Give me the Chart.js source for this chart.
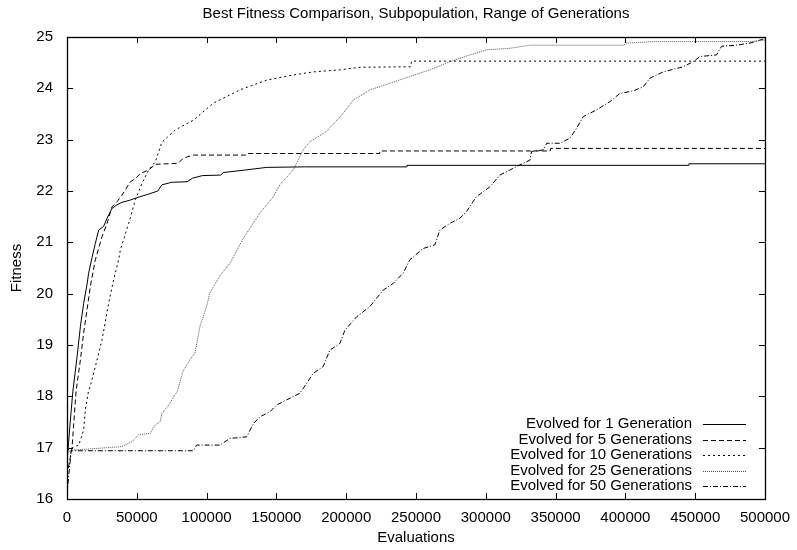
<!DOCTYPE html>
<html>
<head>
<meta charset="utf-8">
<script src="https://cdn.jsdelivr.net/npm/chart.js@4/dist/chart.umd.min.js"></script>
<style>
  html, body { margin: 0; padding: 0; background: #fff; }
  canvas { display: block; }
</style>
</head>
<body>
<canvas id="chart" width="797" height="550"></canvas>
<script>
/* gnuplot-looking fitness comparison, drawn with Chart.js */
const TITLE = 'Best Fitness Comparison, Subpopulation, Range of Generations';
const X_TICKS = [0, 50000, 100000, 150000, 200000, 250000, 300000, 350000, 400000, 450000, 500000];
const Y_TICKS = [16, 17, 18, 19, 20, 21, 22, 23, 24, 25];
const LABELS = [
  'Evolved for 1 Generation',
  'Evolved for 5 Generations',
  'Evolved for 10 Generations',
  'Evolved for 25 Generations',
  'Evolved for 50 Generations',
];

// [evaluations, fitness] pairs
const gen1 = [[0,16.7],[2000,17.4],[4200,18.1],[7200,18.77],[9600,19.36],[11900,19.81],[14300,20.17],[15500,20.4],
  [17900,20.7],[20300,20.98],[22700,21.24],[26200,21.31],[28700,21.47],[32200,21.66],[35800,21.73],[39400,21.78],
  [45000,21.82],[50100,21.87],[58500,21.94],[65000,22.0],[68000,22.12],[75000,22.17],[86000,22.18],[90000,22.25],
  [97000,22.3],[110000,22.31],[112000,22.36],[128000,22.41],[143000,22.46],[170000,22.47],[243000,22.47],
  [243500,22.5],[445000,22.5],[445500,22.53],[500000,22.53]];
const gen5 = [[0,16.45],[3600,17.0],[6500,18.1],[9600,18.71],[11900,19.23],[14300,19.68],[16700,20.14],[20300,20.66],
  [25100,21.11],[28700,21.37],[32200,21.69],[35800,21.79],[39400,21.92],[45400,22.18],[48900,22.24],[52500,22.34],
  [58500,22.41],[63300,22.52],[79700,22.54],[83300,22.64],[90500,22.7],[128000,22.7],[128700,22.73],[224000,22.73],
  [224200,22.78],[346000,22.78],[346500,22.83],[500000,22.83]];
const gen10 = [[0,16.95],[4000,17.0],[8400,17.05],[11900,17.34],[13100,17.73],[15500,18.12],[16700,18.2],
  [20300,18.58],[25100,19.1],[29800,19.81],[33400,20.27],[37000,20.66],[38200,20.85],[44200,21.37],[49000,21.83],
  [53700,22.15],[58500,22.41],[63300,22.57],[68000,22.95],[72000,23.05],[77600,23.19],[90500,23.38],[104800,23.71],
  [123900,23.97],[143000,24.16],[162000,24.26],[176400,24.32],[195500,24.36],[209900,24.41],[246000,24.42],
  [246900,24.53],[500000,24.53]];
const gen25 = [[0,16.9],[3000,16.95],[39400,17.02],[46600,17.12],[51300,17.25],[59700,17.28],[62100,17.41],
  [66800,17.51],[68000,17.67],[72800,17.83],[79000,18.1],[83300,18.5],[88000,18.71],[91600,18.84],[95200,19.36],
  [100000,19.75],[102300,20.01],[109500,20.35],[116700,20.59],[126300,21.08],[138200,21.57],[147800,21.89],
  [152500,22.12],[162000,22.41],[169200,22.8],[174000,22.96],[185900,23.16],[197800,23.51],[205000,23.77],
  [217000,23.97],[231300,24.1],[245600,24.23],[259900,24.36],[274300,24.52],[288600,24.65],[300500,24.75],
  [317300,24.78],[331600,24.84],[398500,24.84],[400900,24.88],[420000,24.91],[490000,24.91],[500000,24.94]];
const gen50 = [[0,16.1],[3000,16.94],[90500,16.94],[92900,17.05],[109600,17.05],[116700,17.18],[128700,17.21],
  [133500,17.47],[138200,17.6],[145400,17.7],[150100,17.83],[157300,17.93],[166800,18.06],[171600,18.25],
  [176400,18.45],[183500,18.58],[188300,18.9],[195500,19.03],[199100,19.29],[207500,19.55],[217000,19.75],
  [226500,20.07],[233700,20.2],[240800,20.4],[245600,20.66],[255100,20.88],[263500,20.95],[267100,21.24],
  [274300,21.37],[281400,21.47],[286200,21.6],[293300,21.89],[302900,22.08],[310000,22.31],[317300,22.41],
  [324400,22.51],[331600,22.6],[332800,22.77],[341200,22.8],[343600,22.93],[353100,22.93],[360300,23.03],
  [365000,23.22],[369800,23.45],[379300,23.58],[388900,23.74],[396000,23.9],[405600,23.95],[412800,24.03],
  [417600,24.2],[427100,24.32],[441400,24.42],[448600,24.52],[453400,24.62],[465300,24.65],[468900,24.82],
  [479600,24.84],[489200,24.88],[500000,24.97]];

const FONT = "'Liberation Sans', Arial, Helvetica, sans-serif";
const FS = 15;
const STYLES = [
  { color: '#000', dash: [] },
  { color: '#000', dash: [5, 3] },
  { color: '#000', dash: [2, 3] },
  { color: '#555', dash: [1, 1] },
  { color: '#000', dash: [5, 2, 1, 2] },
];

const toXY = (pairs) => pairs.map(([x, y]) => ({ x, y }));
const datasets = [gen1, gen5, gen10, gen25, gen50].map((d, i) => ({
  label: LABELS[i],
  data: toXY(d),
  borderColor: STYLES[i].color,
  borderDash: STYLES[i].dash,
  borderWidth: 1,
  pointRadius: 0,
  tension: 0,
  fill: false,
}));

// title centred over the plot area (gnuplot does that, Chart.js centres on the canvas)
const plotTitle = {
  id: 'plotTitle',
  afterDraw(chart) {
    const { ctx, chartArea: a } = chart;
    ctx.save();
    ctx.font = FS + 'px ' + FONT;
    ctx.fillStyle = '#000';
    ctx.textAlign = 'center';
    ctx.textBaseline = 'middle';
    ctx.fillText(TITLE, (a.left + a.right) / 2, 14);
    ctx.restore();
  },
};

// inward ticks on all four sides plus the frame, like gnuplot's mirrored tics
const frame = {
  id: 'frame',
  afterDatasetsDraw(chart) {
    const { ctx, chartArea: a, scales: { x, y } } = chart;
    ctx.save();
    ctx.strokeStyle = '#000';
    ctx.lineWidth = 1;
    ctx.beginPath();
    X_TICKS.forEach((v) => {
      const px = Math.round(x.getPixelForValue(v)) + 0.5;
      ctx.moveTo(px, a.bottom); ctx.lineTo(px, a.bottom - 6);
      ctx.moveTo(px, a.top); ctx.lineTo(px, a.top + 6);
    });
    Y_TICKS.forEach((v) => {
      const py = Math.round(y.getPixelForValue(v)) + 0.5;
      ctx.moveTo(a.left, py); ctx.lineTo(a.left + 6, py);
      ctx.moveTo(a.right, py); ctx.lineTo(a.right - 6, py);
    });
    ctx.stroke();
    ctx.lineWidth = 1.3;
    ctx.strokeRect(Math.round(a.left) + 0.5, Math.round(a.top) + 0.5,
      Math.round(a.right - a.left), Math.round(a.bottom - a.top));
    ctx.restore();
  },
};

// gnuplot style key: right-aligned text with a line sample, bottom right inside the plot
const key = {
  id: 'key',
  afterDatasetsDraw(chart) {
    const { ctx, chartArea: a } = chart;
    const n = chart.data.datasets.length;
    ctx.save();
    ctx.font = FS + 'px ' + FONT;
    ctx.textAlign = 'right';
    ctx.textBaseline = 'middle';
    ctx.fillStyle = '#000';
    chart.data.datasets.forEach((ds, i) => {
      const yy = a.bottom - 13 - (n - 1 - i) * 15.5;
      ctx.fillText(ds.label, a.right - 73, yy);
      ctx.strokeStyle = ds.borderColor;
      ctx.lineWidth = 1;
      ctx.setLineDash(ds.borderDash);
      ctx.beginPath();
      ctx.moveTo(a.right - 62, Math.round(yy) + 0.5);
      ctx.lineTo(a.right - 19, Math.round(yy) + 0.5);
      ctx.stroke();
      ctx.setLineDash([]);
    });
    ctx.restore();
  },
};

new Chart(document.getElementById('chart'), {
  type: 'line',
  data: { datasets },
  plugins: [plotTitle, frame, key],
  options: {
    responsive: false,
    animation: false,
    layout: { padding: { left: 0, right: 32, top: 37, bottom: 0 } },
    plugins: {
      legend: { display: false },
      tooltip: { enabled: false },
      title: { display: false },
    },
    scales: {
      x: {
        type: 'linear',
        min: 0,
        max: 500000,
        afterFit: (s) => { s.height = 51; s.paddingLeft = 0; s.paddingRight = 0; },
        afterBuildTicks: (s) => { s.ticks = X_TICKS.map((v) => ({ value: v })); },
        grid: { display: false, drawTicks: false },
        border: { display: false },
        ticks: { color: '#000', padding: 10, maxRotation: 0, autoSkip: false,
          font: { family: FONT, size: FS }, callback: (v) => String(v) },
        title: { display: true, text: 'Evaluations', color: '#000',
          font: { family: FONT, size: FS }, padding: { top: 3, bottom: 3 } },
      },
      y: {
        type: 'linear',
        min: 16,
        max: 25,
        afterFit: (s) => { s.width = 67; s.paddingTop = 0; s.paddingBottom = 0; },
        afterBuildTicks: (s) => { s.ticks = Y_TICKS.map((v) => ({ value: v })); },
        grid: { display: false, drawTicks: false },
        border: { display: false },
        ticks: { color: '#000', padding: 14, autoSkip: false,
          font: { family: FONT, size: FS }, callback: (v) => String(v) },
        title: { display: true, text: 'Fitness', color: '#000',
          font: { family: FONT, size: FS }, padding: { top: 8, bottom: 8 } },
      },
    },
  },
});
</script>
</body>
</html>
